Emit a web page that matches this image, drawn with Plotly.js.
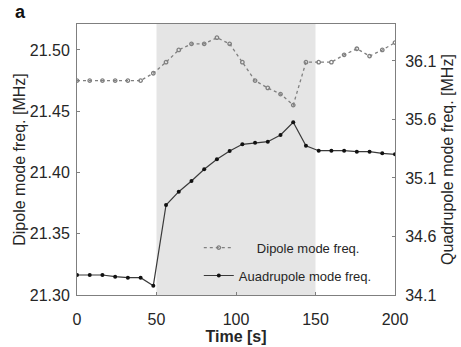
<!DOCTYPE html>
<html>
<head>
<meta charset="utf-8">
<script src="https://cdn.plot.ly/plotly-3.0.1.min.js"></script>
<style>html,body{margin:0;padding:0;background:#fff;}#chart{width:461px;height:347px;}</style>
</head>
<body>
<div id="chart"></div>
<script>
// Time axis [s]
const time = [0,8,16,24,32,40,48,56,64,72,80,88,96,104,112,120,128,136,144,152,160,168,176,184,192,200];
// Dipole mode frequency [MHz] (left axis)
const dipoleFreq = [21.475,21.475,21.475,21.475,21.475,21.475,21.481,21.490,21.500,21.505,21.505,21.510,21.505,21.490,21.475,21.469,21.464,21.455,21.490,21.490,21.490,21.496,21.501,21.495,21.500,21.506];
// Quadrupole mode frequency [MHz] (right axis)
const quadFreq = [34.271,34.271,34.271,34.257,34.248,34.248,34.180,34.869,34.983,35.074,35.174,35.260,35.331,35.388,35.402,35.410,35.468,35.576,35.376,35.333,35.333,35.333,35.325,35.325,35.311,35.302];
// Shaded interval [s]
const shadedWindow = [50,150];
const leftTicks = [21.30,21.35,21.40,21.45,21.50];
const rightTicks = [34.1,34.6,35.1,35.6,36.1];
const xTicks = [0,50,100,150,200];
const seriesNames = ['\u00a0\u00a0\u00a0\u00a0\u00a0Dipole mode freq.','Auadrupole mode freq.'];

const font = 'Liberation Sans, Arial, sans-serif';
const axisColor = '#7f7f7f';
const textColor = '#262626';

const traces = [
  {x: time, y: dipoleFreq, name: seriesNames[0], type: 'scatter', mode: 'lines+markers', yaxis: 'y',
   legendgroup: 'a',
   line: {color: '#808080', width: 1.3, dash: '3px,3px'},
   marker: {symbol: 'circle-open', size: 3.5, color: '#808080', line: {width: 1.3, color: '#808080'}}},
  {x: time, y: quadFreq, name: seriesNames[1], type: 'scatter', mode: 'lines+markers', yaxis: 'y2',
   legendgroup: 'b',
   line: {color: '#3a3a3a', width: 1.2},
   marker: {symbol: 'circle', size: 4, color: '#111'}}
];

const layout = {
  width: 461, height: 347,
  margin: {l: 77, r: 66, t: 24, b: 52},
  paper_bgcolor: '#fff', plot_bgcolor: '#fff',
  font: {family: font, size: 16, color: textColor},
  showlegend: true,
  legend: {x: 0.383, xanchor: 'left', y: 0.23, yanchor: 'top', bgcolor: 'rgba(0,0,0,0)', borderwidth: 0,
           font: {size: 13, color: textColor}, traceorder: 'grouped', tracegroupgap: 8},
  xaxis: {range: [0, 200], tickvals: xTicks, ticks: 'inside', ticklen: 3, tickcolor: axisColor,
          showline: true, linecolor: axisColor, linewidth: 1, mirror: true, showgrid: false, zeroline: false,
          ticklabelstandoff: 10,
          title: {text: '<b>Time [s]</b>', font: {size: 16, color: textColor}, standoff: 2}},
  yaxis: {range: [21.30, 21.5212], tickvals: leftTicks, tickformat: '.2f', ticks: 'inside', ticklen: 3,
          tickcolor: axisColor, showline: true, linecolor: axisColor, linewidth: 1, mirror: true,
          showgrid: false, zeroline: false, ticklabelstandoff: 3,
          title: {text: 'Dipole mode freq. [MHz]', font: {size: 16, color: textColor}, standoff: 0}},
  yaxis2: {range: [34.1, 36.416], tickvals: rightTicks, tickformat: '.1f', overlaying: 'y', side: 'right',
           ticks: 'inside', ticklen: 3, tickcolor: axisColor, showline: true, linecolor: axisColor, linewidth: 1,
           showgrid: false, zeroline: false, ticklabelstandoff: 6,
           title: {text: 'Quadrupole mode freq. [MHz]', font: {size: 16, color: textColor}, standoff: 6}},
  shapes: [{type: 'rect', xref: 'x', yref: 'paper', x0: shadedWindow[0], x1: shadedWindow[1], y0: 0, y1: 1,
            fillcolor: '#e5e5e5', line: {width: 0}, layer: 'below'}],
  annotations: [{text: '<b>a</b>', xref: 'paper', yref: 'paper', x: -0.2, y: 1.0, xanchor: 'left', yanchor: 'bottom',
                 showarrow: false, font: {size: 18, color: '#111'}, xshift: 0, yshift: 0}]
};

Plotly.newPlot('chart', traces, layout, {displayModeBar: false, staticPlot: true});
</script>
</body>
</html>
